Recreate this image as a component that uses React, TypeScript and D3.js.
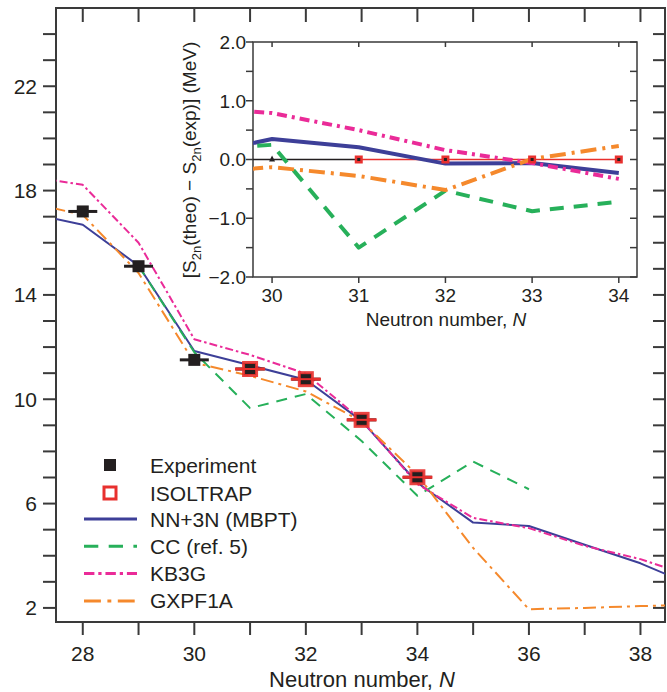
import React from 'react';
import * as d3 from 'd3';

// main panel: two-neutron separation energies
const expN = [28, 29, 30, 31, 32, 33, 34];
const expS2n = [17.2, 15.1, 11.51, 11.16, 10.77, 9.21, 7.01];
const isoN = [31, 32, 33, 34];
const isoS2n = [11.16, 10.77, 9.21, 7.01];

const theoN = [27, 28, 29, 30, 31, 32, 33, 34, 35, 36, 37, 38, 39];
const mbptS2n = [17.15, 16.69, 15.12, 11.85, 11.3, 10.75, 9.17, 6.8, 5.27, 5.14, 4.42, 3.71, 2.8];
const kb3gS2n = [18.55, 18.22, 16.0, 12.3, 11.7, 10.98, 9.2, 6.75, 5.45, 5.06, 4.38, 3.87, 3.15];
const gxpfS2n = [17.55, 17.07, 14.84, 11.4, 10.9, 10.3, 9.15, 7.1, 4.3, 1.95, 2.0, 2.07, 2.12];
const ccN = [29, 30, 31, 32, 33, 34, 35, 36];
const ccS2n = [15.12, 11.8, 9.66, 10.2, 8.4, 6.3, 7.61, 6.55];

const mainYLabels = [2, 6, 10, 14, 18, 22];
const mainXLabels = [28, 30, 32, 34, 36, 38];

// inset: S2n(theo) - S2n(exp)
const insetN = [29, 30, 31, 32, 33, 34];
const mbptDiff = [0.03, 0.35, 0.21, -0.07, -0.06, -0.23];
const ccDiff = [0.15, 0.25, -1.5, -0.53, -0.88, -0.72];
const kb3gDiff = [0.9, 0.79, 0.5, 0.16, -0.06, -0.33];
const gxpfDiff = [-0.25, -0.13, -0.28, -0.52, 0.01, 0.23];
const insetExpN = [30, 31, 32, 33, 34];
const insetYLabels = [2, 1, 0, -1, -2];
const insetXLabels = [30, 31, 32, 33, 34];

const BLUE = '#3d3f98';
const GREEN = '#27b05a';
const MAGENTA = '#ea2b98';
const ORANGE = '#f5892c';
const RED = '#e8302e';
const INK = '#231f20';
const AXIS = '#3a3a3a';
const FONT = '"Liberation Sans", Arial, Helvetica, sans-serif';

const series = [
  { name: 'NN+3N (MBPT)', color: BLUE, dash: '', main: mbptS2n, diff: mbptDiff, insetDash: '' },
  { name: 'CC (ref. 5)', color: GREEN, dash: '11 8', main: ccS2n, diff: ccDiff, insetDash: '14 10' },
  { name: 'KB3G', color: MAGENTA, dash: '8 3 2.5 3', main: kb3gS2n, diff: kb3gDiff, insetDash: '10 5 3 5' },
  { name: 'GXPF1A', color: ORANGE, dash: '13 5 3 5', main: gxpfS2n, diff: gxpfDiff, insetDash: '16 6 3 6' },
];

const fmt1 = (v: number) => (v < 0 ? '\u2212' : '') + Math.abs(v).toFixed(1);

const App = () => {
  // main frame
  const L = 56, R = 665, T = 8, B = 622;
  const x = d3.scaleLinear().domain([27.52, 38.44]).range([L, R]);
  const y = d3.scaleLinear().domain([1.46, 25.0]).range([B, T]);

  // inset frame
  const iL = 253, iR = 637, iT = 42, iB = 277;
  const ix = d3.scaleLinear().domain([29.78, 34.21]).range([iL, iR]);
  const iy = d3.scaleLinear().domain([-2, 2]).range([iB, iT]);

  const line = (xs: number[], ys: number[], sx: any, sy: any) =>
    d3.line<number>().x((_, i) => sx(xs[i])).y((d) => sy(d))(ys) || '';

  const mainXTicks = d3.range(28, 39);
  const mainYTicks = d3.range(2, 25);
  const insetYTicks = d3.range(-2, 2.01, 0.5);

  return (
    <svg width={667} height={692} style={{ position: 'absolute', left: 0, top: 0, background: '#fff' }}
      fontFamily={FONT}>
      <defs>
        <clipPath id="mainClip"><rect x={L} y={T} width={R - L} height={B - T} /></clipPath>
        <clipPath id="insetClip"><rect x={iL} y={iT} width={iR - iL} height={iB - iT} /></clipPath>
      </defs>

      {/* main frame and ticks */}
      <rect x={L} y={T} width={R - L} height={B - T} fill="none" stroke={AXIS} strokeWidth={2} />
      {mainYTicks.map((v) => (
        <g key={'ly' + v} stroke={AXIS} strokeWidth={2}>
          <line x1={L - 13} x2={L} y1={y(v)} y2={y(v)} />
          <line x1={R - 12} x2={R} y1={y(v)} y2={y(v)} />
        </g>
      ))}
      {mainXTicks.map((v) => (
        <g key={'lx' + v} stroke={AXIS} strokeWidth={2}>
          <line x1={x(v)} x2={x(v)} y1={B} y2={B + 13} />
          <line x1={x(v)} x2={x(v)} y1={T} y2={T + 14} />
        </g>
      ))}
      {mainYLabels.map((v) => (
        <text key={'yl' + v} x={L - 19} y={y(v)} dy="0.36em" textAnchor="end" fontSize={21} fill={INK}>{v}</text>
      ))}
      {mainXLabels.map((v) => (
        <text key={'xl' + v} x={x(v)} y={661} textAnchor="middle" fontSize={21} fill={INK}>{v}</text>
      ))}
      <text x={362} y={687} textAnchor="middle" fontSize={22} fill={INK}>
        Neutron number, <tspan fontStyle="italic">N</tspan>
      </text>

      {/* theory curves */}
      <g clipPath="url(#mainClip)" fill="none">
        {series.map((s) => (
          <path key={s.name} d={line(s === series[1] ? ccN : theoN, s.main, x, y)}
            stroke={s.color} strokeWidth={2} strokeDasharray={s.dash} strokeLinejoin="round" />
        ))}
      </g>

      {/* experiment */}
      {expN.map((n, i) => (
        <g key={'e' + n}>
          <line x1={x(n - 0.26)} x2={x(n + 0.26)} y1={y(expS2n[i])} y2={y(expS2n[i])} stroke={INK} strokeWidth={3} />
          <rect x={x(n) - 6} y={y(expS2n[i]) - 6} width={12} height={12} fill={INK} />
        </g>
      ))}
      {isoN.map((n, i) => (
        <g key={'iso' + n}>
          <line x1={x(n - 0.27)} x2={x(n + 0.27)} y1={y(isoS2n[i])} y2={y(isoS2n[i])} stroke={RED} strokeWidth={3} />
          <rect x={x(n) - 8} y={y(isoS2n[i]) - 8} width={16} height={16} fill={RED} fillOpacity={0.9} />
          <rect x={x(n) - 5} y={y(isoS2n[i]) - 5} width={10} height={10} fill={INK} />
          <line x1={x(n) - 8} x2={x(n) + 8} y1={y(isoS2n[i])} y2={y(isoS2n[i])} stroke={RED} strokeWidth={2} />
        </g>
      ))}

      {/* legend */}
      <g fontSize={21} fill={INK}>
        <rect x={104} y={459} width={12} height={12} fill={INK} />
        <text x={150} y={465} dy="0.36em">Experiment</text>
        <rect x={104} y={487} width={12} height={12} fill="#fff" stroke={RED} strokeWidth={3} />
        <text x={150} y={493} dy="0.36em">ISOLTRAP</text>
        {series.map((s, i) => (
          <g key={'lg' + s.name}>
            <line x1={84} x2={137} y1={519 + i * 27.3} y2={519 + i * 27.3} stroke={s.color}
              strokeWidth={3} strokeDasharray={s.dash ? s.dash.split(' ').map((d) => +d * 1.3).join(' ') : ''} />
            <text x={150} y={519 + i * 27.3} dy="0.36em">{s.name}</text>
          </g>
        ))}
      </g>

      {/* inset */}
      <rect x={iL} y={iT} width={iR - iL} height={iB - iT} fill="#fff" stroke={AXIS} strokeWidth={1.5} />
      {insetYTicks.map((v) => (
        <g key={'iyt' + v} stroke={AXIS} strokeWidth={1.5}>
          <line x1={iL - 7} x2={iL} y1={iy(v)} y2={iy(v)} />
          <line x1={iR - 7} x2={iR} y1={iy(v)} y2={iy(v)} />
        </g>
      ))}
      {insetXLabels.map((v) => (
        <g key={'ixt' + v} stroke={AXIS} strokeWidth={1.5}>
          <line x1={ix(v)} x2={ix(v)} y1={iB} y2={iB + 6} />
          <line x1={ix(v)} x2={ix(v)} y1={iT} y2={iT + 5} />
        </g>
      ))}
      {insetYLabels.map((v) => (
        <text key={'iyl' + v} x={iL - 7} y={iy(v)} dy="0.36em" textAnchor="end" fontSize={19} fill={INK}>{fmt1(v)}</text>
      ))}
      {insetXLabels.map((v) => (
        <text key={'ixl' + v} x={ix(v)} y={302} textAnchor="middle" fontSize={19} fill={INK}>{v}</text>
      ))}
      <text x={446} y={326} textAnchor="middle" fontSize={19} fill={INK}>
        Neutron number, <tspan fontStyle="italic">N</tspan>
      </text>
      <text transform="translate(196,160) rotate(-90)" textAnchor="middle" fontSize={19} fill={INK}>
        [S<tspan fontSize={13} dy={5}>2n</tspan><tspan dy={-5}>(theo) − S</tspan><tspan fontSize={13} dy={5}>2n</tspan><tspan dy={-5}>(exp)] (MeV)</tspan>
      </text>

      <g clipPath="url(#insetClip)" fill="none">
        <line x1={iL} x2={ix(31)} y1={iy(0)} y2={iy(0)} stroke={INK} strokeWidth={1.5} />
        <line x1={ix(31)} x2={ix(34)} y1={iy(0)} y2={iy(0)} stroke={RED} strokeWidth={1.5} />
        {series.map((s) => (
          <path key={'in' + s.name} d={line(insetN, s.diff, ix, iy)} stroke={s.color} strokeWidth={4}
            strokeDasharray={s.insetDash} strokeLinejoin="round" />
        ))}
        {insetExpN.map((n) =>
          n === 30 ? (
            <path key={'ie' + n} d={`M${ix(n) - 3},${iy(0) + 2} L${ix(n) + 3},${iy(0) + 2} L${ix(n)},${iy(0) - 4} Z`} fill={INK} />
          ) : (
            <g key={'ie' + n}>
              <rect x={ix(n) - 4} y={iy(0) - 4} width={8} height={8} fill={RED} />
              <rect x={ix(n) - 1.5} y={iy(0) - 1.5} width={3} height={3} fill={INK} />
            </g>
          )
        )}
      </g>
    </svg>
  );
};

export default App;
